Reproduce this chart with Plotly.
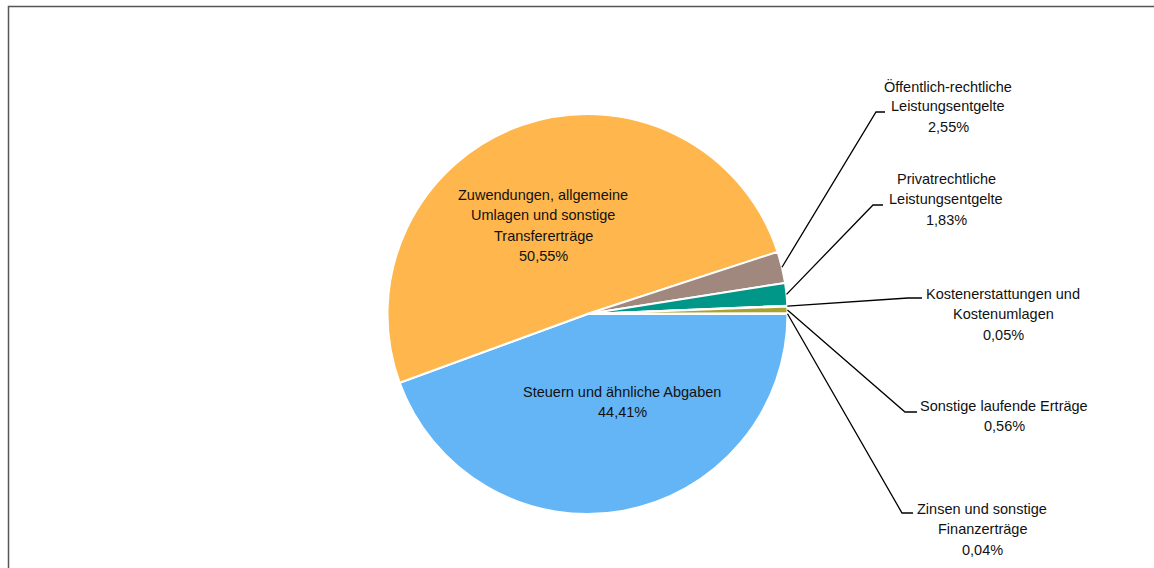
import math
import plotly.graph_objects as go

W, H = 1154, 568

# ---- data ----
categories = [
    "Steuern und ähnliche Abgaben",
    "Zuwendungen, allgemeine Umlagen und sonstige Transfererträge",
    "Öffentlich-rechtliche Leistungsentgelte",
    "Privatrechtliche Leistungsentgelte",
    "Kostenerstattungen und Kostenumlagen",
    "Sonstige laufende Erträge",
    "Zinsen und sonstige Finanzerträge",
]
display_lines = [
    ["Steuern und ähnliche Abgaben"],
    ["Zuwendungen, allgemeine", "Umlagen und sonstige", "Transfererträge"],
    ["Öffentlich-rechtliche", "Leistungsentgelte"],
    ["Privatrechtliche", "Leistungsentgelte"],
    ["Kostenerstattungen und", "Kostenumlagen"],
    ["Sonstige laufende Erträge"],
    ["Zinsen und sonstige", "Finanzerträge"],
]
shares = [44.41, 50.55, 2.55, 1.83, 0.05, 0.56, 0.04]

# ---- styles ----
colors = ["#64B5F6", "#FFB74D", "#A1887F", "#009688", "#E57373", "#A8A22E", "#7986CB"]
FONT = "Liberation Sans, Arial, sans-serif"
FS = 14.5
LINE_H = 20.3

# pie geometry (pixels)
CX, CY, R = 587.5, 314.0, 200.0

def px(x):
    return x / W

def py(y):
    return 1 - y / H

def pct(v):
    return f"{v:.2f}".replace(".", ",") + "%"

fig = go.Figure(go.Pie(
    labels=categories,
    values=shares,
    sort=False,
    direction="clockwise",
    rotation=90,
    textinfo="none",
    hoverinfo="label+percent",
    showlegend=False,
    marker=dict(colors=colors, line=dict(color="white", width=2)),
    domain=dict(x=[px(CX - R), px(CX + R)], y=[py(CY + R), py(CY - R)]),
))

# label placement (layout): index -> (label center x, first line y, [elbow x, elbow y, end x])
inside_pos = {0: (622, 392), 1: (543, 195)}
outside_pos = {
    2: (948, 86, 876, 112, 885),
    3: (946, 179, 873, 205, 883),
    4: (1003, 294, 908, 298, 922),
    5: (1004, 406, 905, 412, 917),
    6: (982, 509, 902, 513, 913),
}

total = sum(shares)
cum = 0.0
annotations = []
shapes = []
for i, v in enumerate(shares):
    mid = (cum + v / 2) / total * 2 * math.pi  # clockwise from 3 o'clock
    cum += v
    lines = display_lines[i] + [pct(v)]
    if i in inside_pos:
        lx, ly = inside_pos[i]
    else:
        lx, ly, ex, ey, endx = outside_pos[i]
        sx = CX + R * math.cos(mid)
        sy = CY + R * math.sin(mid)
        shapes.append(dict(
            type="path", xref="paper", yref="paper",
            path=f"M {px(sx)} {py(sy)} L {px(ex)} {py(ey)} L {px(endx)} {py(ey)}",
            line=dict(color="black", width=1.3),
        ))
    for k, t in enumerate(lines):
        annotations.append(dict(
            x=px(lx), y=py(ly + k * LINE_H), xref="paper", yref="paper",
            text=t, showarrow=False, xanchor="center", yanchor="middle",
            align="center", font=dict(family=FONT, size=FS, color="#111111"),
        ))

# chart border
shapes.append(dict(
    type="rect", xref="paper", yref="paper",
    x0=px(8.5), y0=py(6.5), x1=px(1300), y1=py(700),
    line=dict(color="#555555", width=1.5), fillcolor="rgba(0,0,0,0)",
))

fig.update_layout(
    width=W, height=H,
    margin=dict(l=0, r=0, t=0, b=0),
    paper_bgcolor="white",
    plot_bgcolor="white",
    annotations=annotations,
    shapes=shapes,
    font=dict(family=FONT, size=FS),
)

fig.write_html("out.html", config={"displayModeBar": False},
               post_script="document.body.style.margin='0';")
